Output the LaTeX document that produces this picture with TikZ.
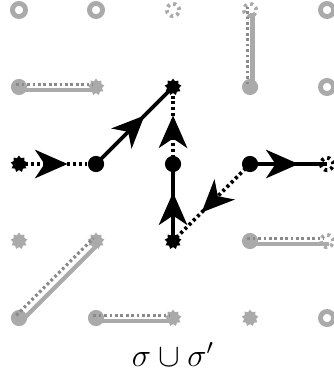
\documentclass[tikz,border=0pt]{standalone}
\usepackage{tikz}
\usetikzlibrary{arrows.meta,shapes.geometric,decorations.markings}
\definecolor{site}{HTML}{AAAAAA}
\definecolor{sitedark}{HTML}{8A8A8A}

\begin{document}
\begin{tikzpicture}[
  every node/.style={inner sep=0pt,outer sep=0pt},
  ring/.style={draw=site,circle,line width=1.8pt,minimum size=0.17cm},
  gdot/.style={fill=site,circle,minimum size=0.21cm},
  bdot/.style={fill=black,circle,minimum size=0.21cm},
  gstar/.style={fill=site,star,star points=9,star point ratio=1.4,minimum size=0.22cm},
  bstar/.style={fill=black,star,star points=9,star point ratio=1.4,minimum size=0.22cm},
  gdstar/.style={draw=site,circle,line width=1.4pt,dash pattern=on 1.1pt off 1.3pt,minimum size=0.16cm},
  bdstar/.style={draw=black,circle,line width=1.4pt,dash pattern=on 1.1pt off 1.3pt,minimum size=0.16cm},
  midarrow/.style={postaction={decorate,decoration={markings,
    mark=at position 0.63 with {\arrow{Stealth[length=12pt,width=10.5pt,inset=3.5pt]}}}}},
  solidmove/.style={line width=1.4pt,midarrow},
  dotmove/.style={line width=1.4pt,dash pattern=on 1.1pt off 1.1pt,midarrow},
  gsolid/.style={draw=site,line width=1.6pt,transform canvas={xshift=0.03cm,yshift=-0.04cm}},
  gdotted/.style={draw=sitedark,line width=1.2pt,dash pattern=on 1pt off 1pt,transform canvas={xshift=-0.035cm,yshift=0.035cm}},
]
  \useasboundingbox (-0.247,0.13) rectangle (4.078,-4.688);

  % top row
  \node[ring] (p00) at (0,0) {};
  \node[ring] (p10) at (1,0) {};
  \node[gdstar] (p20) at (2,0) {};
  \node[gdstar] (p30) at (3,0) {};
  \node[ring] (p40) at (4,0) {};
  % second row
  \node[gdot] (p01) at (0,-1) {};
  \node[gstar] (p11) at (1,-1) {};
  \node[bstar] (p21) at (2,-1) {};
  \node[gdot] (p31) at (3,-1) {};
  \node[ring] (p41) at (4,-1) {};
  % middle row
  \node[bstar] (p02) at (0,-2) {};
  \node[bdot] (p12) at (1,-2) {};
  \node[bdot] (p22) at (2,-2) {};
  \node[bdot] (p32) at (3,-2) {};
  \node[bdstar] (p42) at (4,-2) {};
  % fourth row
  \node[gstar] (p03) at (0,-3) {};
  \node[gstar] (p13) at (1,-3) {};
  \node[bstar] (p23) at (2,-3) {};
  \node[gdot] (p33) at (3,-3) {};
  \node[gdstar] (p43) at (4,-3) {};
  % bottom row
  \node[gdot] (p04) at (0,-4) {};
  \node[gdot] (p14) at (1,-4) {};
  \node[gstar] (p24) at (2,-4) {};
  \node[gstar] (p34) at (3,-4) {};
  \node[ring] (p44) at (4,-4) {};

  % grey pairs
  \draw[gsolid] (p01.center) -- (p11.center);
  \draw[gdotted] (p01.center) -- (p11.center);
  \draw[gsolid] (p31.center) -- (p30.center);
  \draw[gdotted] (p31.center) -- (p30.center);
  \draw[gsolid] (p04.center) -- (p13.center);
  \draw[gdotted] (p04.center) -- (p13.center);
  \draw[gsolid] (p14.center) -- (p24.center);
  \draw[gdotted] (p14.center) -- (p24.center);
  \draw[gsolid] (p33.center) -- (p43.center);
  \draw[gdotted] (p33.center) -- (p43.center);

  % moves
  \draw[dotmove] (p02.center) -- (p12.center);
  \draw[solidmove] (p12.center) -- (p21.center);
  \draw[dotmove] (p22.center) -- (p21.center);
  \draw[solidmove] (p23.center) -- (p22.center);
  \draw[solidmove] (p32.center) -- (p42.center);
  \draw[dotmove] (p32.center) -- (p23.center);

  \node[font=\large] (lbl) at (2,-4.47) {$\sigma\cup\sigma'$};
\end{tikzpicture}
\end{document}
